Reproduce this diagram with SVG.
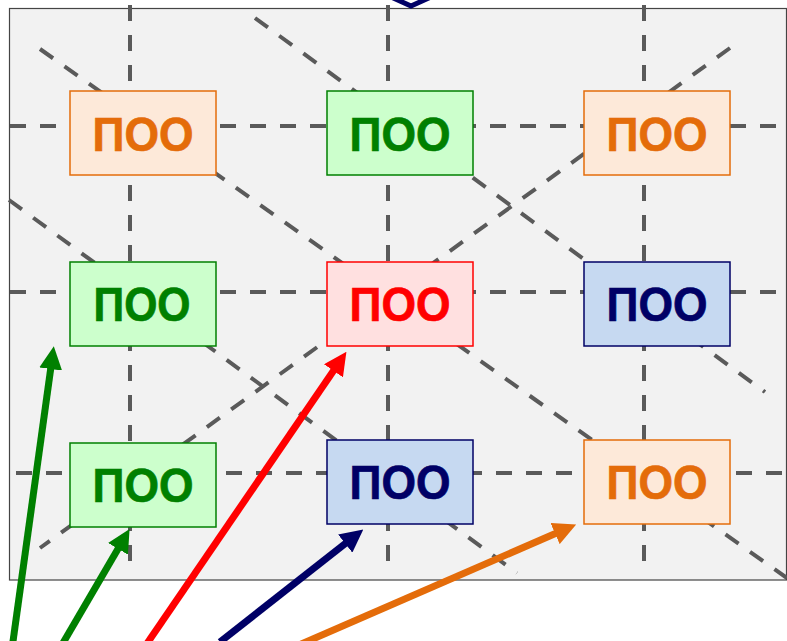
<svg xmlns="http://www.w3.org/2000/svg" width="787" height="641" viewBox="0 0 787 641">
<style>
.grid{stroke:#5a5a5a;stroke-width:4;stroke-dasharray:16 14;fill:none}
.box{stroke-width:1.5}
.lbl{font-family:"Liberation Sans",Arial,sans-serif;font-weight:bold;font-size:48px;text-anchor:middle;stroke-width:0.7}
.orange rect{fill:#fde9d9;stroke:#e46c0a}
.orange text{fill:#e46c0a;stroke:#e46c0a}
.green rect{fill:#ccffcc;stroke:#008000}
.green text{fill:#008000;stroke:#008000}
.red rect{fill:#ffe0e0;stroke:#ff0000}
.red text{fill:#ff0000;stroke:#ff0000}
.navy rect{fill:#c6d9f1;stroke:#000066}
.navy text{fill:#000066;stroke:#000066}
.arr{stroke-width:7;fill:none}
</style>
<defs>
<marker id="hG" markerUnits="userSpaceOnUse" viewBox="0 0 23 23" markerWidth="23" markerHeight="23" refX="1" refY="11.5" orient="auto"><path d="M0,0 L23,11.5 L0,23 z" fill="#008000"/></marker>
<marker id="hR" markerUnits="userSpaceOnUse" viewBox="0 0 23 23" markerWidth="23" markerHeight="23" refX="1" refY="11.5" orient="auto"><path d="M0,0 L23,11.5 L0,23 z" fill="#ff0000"/></marker>
<marker id="hN" markerUnits="userSpaceOnUse" viewBox="0 0 23 23" markerWidth="23" markerHeight="23" refX="1" refY="11.5" orient="auto"><path d="M0,0 L23,11.5 L0,23 z" fill="#000066"/></marker>
<marker id="hO" markerUnits="userSpaceOnUse" viewBox="0 0 23 23" markerWidth="23" markerHeight="23" refX="1" refY="11.5" orient="auto"><path d="M0,0 L23,11.5 L0,23 z" fill="#e46c0a"/></marker>
</defs>
<rect x="0" y="0" width="787" height="641" fill="#ffffff"/>
<rect x="9.5" y="8.5" width="777" height="571.5" fill="#f2f2f2" stroke="#444444" stroke-width="1.2"/>
<polyline points="380,-8 411,6 442,-8" fill="none" stroke="#000066" stroke-width="5"/>
<g id="grid">
<line class="grid" x1="130" y1="5" x2="130" y2="575"/>
<line class="grid" x1="388" y1="5" x2="388" y2="575"/>
<line class="grid" x1="644" y1="5" x2="644" y2="575"/>
<line class="grid" x1="10" y1="126" x2="786" y2="126"/>
<line class="grid" x1="10" y1="292" x2="786" y2="292"/>
<line class="grid" x1="16" y1="473" x2="787" y2="473"/>
<line class="grid" x1="40" y1="49" x2="787" y2="578"/>
<line class="grid" x1="255" y1="18" x2="765" y2="392"/>
<line class="grid" x1="9" y1="200" x2="517" y2="573"/>
<line class="grid" x1="730" y1="48" x2="40" y2="548"/>
</g>
<g id="n1" class="orange"><rect class="box" x="70" y="91" width="146" height="84"/><text class="lbl" x="143" y="151" textLength="101" lengthAdjust="spacingAndGlyphs">ПОО</text></g>
<g id="n2" class="green"><rect class="box" x="327" y="91" width="146" height="84"/><text class="lbl" x="400" y="151" textLength="101" lengthAdjust="spacingAndGlyphs">ПОО</text></g>
<g id="n3" class="orange"><rect class="box" x="584" y="91" width="146" height="84"/><text class="lbl" x="657" y="151" textLength="101" lengthAdjust="spacingAndGlyphs">ПОО</text></g>
<g id="n4" class="green"><rect class="box" x="70" y="262" width="146" height="84"/><text class="lbl" x="142" y="321" textLength="97" lengthAdjust="spacingAndGlyphs">ПОО</text></g>
<g id="n5" class="red"><rect class="box" x="327" y="262" width="146" height="84"/><text class="lbl" x="400" y="321" textLength="101" lengthAdjust="spacingAndGlyphs">ПОО</text></g>
<g id="n6" class="navy"><rect class="box" x="584" y="262" width="146" height="84"/><text class="lbl" x="657" y="321" textLength="101" lengthAdjust="spacingAndGlyphs">ПОО</text></g>
<g id="n7" class="green"><rect class="box" x="70" y="443" width="146" height="84"/><text class="lbl" x="143" y="502" textLength="101" lengthAdjust="spacingAndGlyphs">ПОО</text></g>
<g id="n8" class="navy"><rect class="box" x="327" y="440" width="146" height="84"/><text class="lbl" x="400" y="499" textLength="101" lengthAdjust="spacingAndGlyphs">ПОО</text></g>
<g id="n9" class="orange"><rect class="box" x="584" y="440" width="146" height="84"/><text class="lbl" x="657" y="499" textLength="101" lengthAdjust="spacingAndGlyphs">ПОО</text></g>
<g id="connectors">
<line class="arr" x1="12.5" y1="645" x2="50.8" y2="368" stroke="#008000" marker-end="url(#hG)"/>
<line class="arr" x1="63" y1="643" x2="118.5" y2="548" stroke="#008000" marker-end="url(#hG)"/>
<line class="arr" x1="146" y1="645" x2="334" y2="370" stroke="#ff0000" marker-end="url(#hR)"/>
<line class="arr" x1="220" y1="642" x2="346" y2="543" stroke="#000066" marker-end="url(#hN)"/>
<line class="arr" x1="299" y1="645" x2="556" y2="533.2" stroke="#e46c0a" marker-end="url(#hO)"/>
</g>
</svg>
